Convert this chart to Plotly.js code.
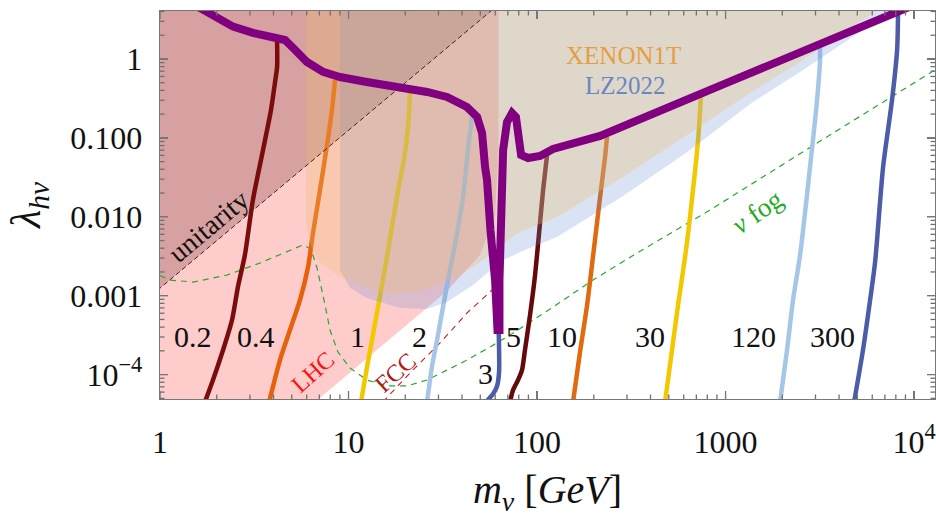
<!DOCTYPE html>
<html><head><meta charset="utf-8">
<script src="https://cdn.plot.ly/plotly-3.0.1.min.js"></script>
<style>html,body{margin:0;padding:0;background:#fff}#chart{width:936px;height:517px}</style>
</head><body><div id="chart"></div><script>
// ---------- data (m_v in GeV, lambda_hv) ----------
const relicM = [1.53,2.0,2.44,3.11,3.98,4.6,5.08,6.02,7.33,9.01,12.5,18.8,26.1,33.3,42.5,48.1,51.1,53.0,54.3,56.6,59.9,61.7,63.2,63.2,64.0,64.4,66.1,69.3,73.7,77.3,79.3,82.3,89.6,103.7,121.6,132.5,144.3,169,216,1000,8128,10120];
const relicL = [4.83,3.44,2.57,2.14,1.85,1.74,1.38,0.916,0.685,0.591,0.511,0.442,0.382,0.330,0.246,0.184,0.115,0.0428,0.0293,0.0068,0.00158,0.000367,0.000367,0.00158,0.0068,0.0293,0.0703,0.159,0.207,0.184,0.109,0.0607,0.0556,0.059,0.0723,0.0767,0.0767,0.0887,0.106,0.49,4.06,4.9];

const c02M = [1.73,1.91,2.16,2.41,2.59,2.82,3.11,3.52,3.88,4.07,4.18,4.18];
const c02L = [4.5e-5,8.55e-5,2.05e-4,4.92e-4,1.29e-3,3.28e-3,0.0163,0.0703,0.226,0.497,0.792,1.64];
const c04M = [3.79,4.33,4.89,5.53,6.10,6.48,7.06,7.69,8.17,8.48];
const c04L = [4.5e-5,1.53e-4,3.67e-4,8.83e-4,2.31e-3,6.23e-3,0.0219,0.0813,0.226,0.542];
const c1M = [11.65,12.54,13.33,14.34,15.8,17.23,18.54,19.68,20.68,21.19];
const c1L = [4.5e-5,1.25e-4,2.75e-4,7.19e-4,2.6e-3,9.1e-3,0.0253,0.0525,0.1375,0.371];
const c2M = [26.1,27.7,29.5,31.3,33.7,36.7,40.5,43.0,45.2];
const c2L = [4.5e-5,1.25e-4,2.75e-4,6.04e-4,1.58e-3,4.4e-3,0.0178,0.0703,0.184];
const c3M = [62.5,62.9,62.9,61.4,58.4,53.6];
const c3L = [4e-4,2.05e-4,1.08e-4,7.18e-5,5.68e-5,4.5e-5];
const c5M = [71.9,74.6,79.3,83.2,86.3,91.8,97.5,103.7,107.7,113];
const c5L = [4.5e-5,6.38e-5,8.55e-5,1.14e-4,2.05e-4,5.69e-4,1.78e-3,8.34e-3,0.0219,0.0607];
const c10M = [155.2,169,184,198,216,229.5,235];
const c10L = [4.5e-5,1.93e-4,7.4e-4,3.09e-3,0.0178,0.0573,0.103];
const c30M = [477.5,520,560,617,672,715,742];
const c30L = [4.5e-5,2.05e-4,7.62e-4,3.79e-3,0.0219,0.094,0.36];
const c120M = [1946,2119,2280,2485,2806,3058,3171,3171];
const c120L = [4.5e-5,2.05e-4,8.83e-4,3.28e-3,0.0428,0.302,0.971,1.5];
const c300M = [4808,5358,5845,6213,6850,7640,8128,8224];
const c300L = [4.5e-5,2.05e-4,8.83e-4,2.67e-3,0.0428,0.302,1.3,3.94];

const lhcM = [1,6.81,18.8,33.3,49.9,59.9,62.5,62.5,1];
const lhcL = [1e-6,4.76e-5,3.67e-4,1.15e-3,3.28e-3,0.0105,0.07,10,10];
const unitM = [0.9,60,0.9];
const unitL = [1.01e-3,4.5,4.5];
const xenonM = [5.95,5.95,6.4,7.06,9.01,12.5,17.2,23.9,30.6,42.5,54.3,63.6,81.3,127.7,286,649,1349,2485,5358,8433,8433];
const xenonL = [10,7.87e-3,3.79e-3,2.67e-3,1.73e-3,1.25e-3,1.05e-3,1.15e-3,1.41e-3,2.06e-3,3.09e-3,4.27e-3,6.41e-3,9.93e-3,0.0319,0.115,0.371,0.916,3.12,6.47,10];
const lzM = [9.01,9.01,10.2,12.5,18.8,26.1,33.3,45.8,63.6,81.3,127.7,286,649,1349,2485,5358,9526,9526];
const lzL = [10,2.12e-3,1.25e-3,9.35e-4,6.98e-4,6.78e-4,8.32e-4,1.37e-3,2.67e-3,3.58e-3,5.55e-3,0.0184,0.0703,0.269,0.684,2.33,5.6,10];

const fogM = [1.0,1.13,1.50,2.27,3.39,4.72,5.74,6.32,6.81,7.41,7.98,8.79,10.2,12.5,16.0,20.4,26.1,33.3,42.5,56.3,69.3,121.6,198,339.6,828,3715,12900];
const fogL = [1.8e-3,1.58e-3,1.49e-3,1.83e-3,2.6e-3,3.58e-3,4.4e-3,3.91e-3,2.25e-3,8.83e-4,3.67e-4,1.93e-4,1.21e-4,8.55e-5,7.18e-5,7.18e-5,8.55e-5,1.14e-4,1.53e-4,2.24e-4,3.0e-4,7.19e-4,1.58e-3,3.48e-3,0.0122,0.115,0.726];
const fccM = [15.2,21.2,30.6,42.5,57.7];
const fccL = [4.5e-5,1.05e-4,2.52e-4,6.04e-4,1.18e-3];

const xTickVals = [1,10,100,1000,10000];
const xTickText = ['1','10','100','1000','10<sup>4</sup>'];
const yTickVals = [1e-4,1e-3,1e-2,1e-1,1];
const yTickText = ['10<sup>−4</sup>','0.001','0.010','0.100','1'];

const contourLabels = ['0.2','0.4','1','2','3','5','10','30','120','300'];

// ---------- build ----------
const FONT = '"Liberation Serif", "Times New Roman", Times, serif';
const XR = [0,4.111], YR = [-4.309,0.608];
const PX_PER_DEC_X = 775/(XR[1]-XR[0]), PX_PER_DEC_Y = 388/(YR[1]-YR[0]);
function line(x,y,color,width,extra){
  return {type:'scatter',mode:'lines',x:x,y:y,hoverinfo:'skip',
    line:Object.assign({color:color,width:width},extra||{})};
}
function region(x,y,fill){
  return {type:'scatter',mode:'lines',x:x,y:y,fill:'toself',fillcolor:fill,line:{width:0},hoverinfo:'skip'};
}

// frame tick marks (decades + 2..9 minor marks) on all four sides, as one segmented line trace
const tkX = [], tkY = [];
for(let e=-6;e<=5;e++){
  for(let d=1;d<=9;d++){
    const lv = Math.log10(d*Math.pow(10,e));
    const len = d===1 ? 8 : 4.5;
    if(lv>=XR[0]-1e-9 && lv<=XR[1]){
      const dy = len/PX_PER_DEC_Y;
      tkX.push(Math.pow(10,lv),Math.pow(10,lv),null,Math.pow(10,lv),Math.pow(10,lv),null);
      tkY.push(Math.pow(10,YR[0]),Math.pow(10,YR[0]+dy),null,Math.pow(10,YR[1]),Math.pow(10,YR[1]-dy),null);
    }
    if(lv>=YR[0] && lv<=YR[1]){
      const dx = len/PX_PER_DEC_X;
      tkY.push(Math.pow(10,lv),Math.pow(10,lv),null,Math.pow(10,lv),Math.pow(10,lv),null);
      tkX.push(Math.pow(10,XR[0]),Math.pow(10,XR[0]+dx),null,Math.pow(10,XR[1]),Math.pow(10,XR[1]-dx),null);
    }
  }
}

const sp = {shape:'spline',smoothing:0.7};
const traces = [
  region(lhcM,lhcL,'rgba(255,0,0,0.2)'),
  region(unitM,unitL,'rgba(110,50,50,0.28)'),
  line(fogM,fogL,'#2aa82a',1.2,{dash:'6px,5px'}),
  line(fccM,fccL,'#c02020',1.1,{dash:'6px,5px'}),
  line(c02M,c02L,'#7a0c0c',4.5,sp),
  line(c04M,c04L,'#e6620a',4.5,sp),
  line(c1M,c1L,'#f2c800',4.5,sp),
  line(c2M,c2L,'#a6c6e8',4.5,sp),
  line(c3M,c3L,'#4c5ca8',4.5,sp),
  line(c5M,c5L,'#640a0a',4.5,sp),
  line(c10M,c10L,'#e06a10',4.5,sp),
  line(c30M,c30L,'#f2c800',4.5,sp),
  line(c120M,c120L,'#a6c6e8',4.5,sp),
  line(c300M,c300L,'#4c5ca8',4.5,sp),
  region(lzM,lzL,'rgba(100,140,210,0.24)'),
  region(xenonM,xenonL,'rgba(240,190,110,0.3)'),
  line([unitM[0],unitM[1]],[unitL[0],unitL[1]],'#3a2a2a',1,{dash:'5px,3px'}),
  line(relicM,relicL,'#800080',8),
  line(tkX,tkY,'#707070',1.3)
];

const lx = [0.175,0.509,1.045,1.379,1.724,1.873,2.133,2.599,3.146,3.565];
const ly = [-3.52,-3.52,-3.52,-3.52,-3.98,-3.52,-3.52,-3.52,-3.52,-3.52];
const annotations = contourLabels.map((t,i)=>({x:lx[i],y:ly[i],xref:'x',yref:'y',text:t,showarrow:false,
  font:{family:FONT,size:30,color:'#111'}}));
annotations.push(
  {x:2.456,y:0.038,xref:'x',yref:'y',text:'XENON1T',showarrow:false,font:{family:FONT,size:25,color:'#e3a040'}},
  {x:2.467,y:-0.33,xref:'x',yref:'y',text:'LZ2022',showarrow:false,font:{family:FONT,size:25,color:'#6a88c0'}},
  {x:0.255,y:-2.12,xref:'x',yref:'y',text:'unitarity',textangle:-40,showarrow:false,font:{family:FONT,size:28,color:'#111'}},
  {x:0.812,y:-3.967,xref:'x',yref:'y',text:'LHC',textangle:-42,showarrow:false,font:{family:FONT,size:24,color:'#ff1010'}},
  {x:1.247,y:-3.98,xref:'x',yref:'y',text:'FCC',textangle:-42,showarrow:false,font:{family:FONT,size:24,color:'#b01818'}},
  {x:3.167,y:-1.939,xref:'x',yref:'y',text:'<i>ν</i> fog',textangle:-35,showarrow:false,font:{family:FONT,size:27,color:'#22aa22'}}
);

function axisBase(){
  return {type:'log',showgrid:false,zeroline:false,showline:true,linecolor:'#777',linewidth:1.3,
    mirror:'ticks',ticks:'inside',ticklen:8,tickwidth:1.3,tickcolor:'#777',
    tickfont:{family:FONT,size:32,color:'#111'}};
}
const layout = {
  width:936,height:517,margin:{l:160,r:1,t:11,b:118},
  paper_bgcolor:'#fff',plot_bgcolor:'#fff',showlegend:false,
  font:{family:FONT},
  xaxis:Object.assign(axisBase(),{range:XR,tickmode:'array',tickvals:xTickVals,ticktext:xTickText,
    ticklabelstandoff:14,
    title:{text:'<i>m</i><sub><i>v</i></sub> [<i>GeV</i>]',font:{family:FONT,size:40,color:'#111'},standoff:18}}),
  yaxis:Object.assign(axisBase(),{range:YR,tickmode:'array',tickvals:yTickVals,ticktext:yTickText,
    ticklabelstandoff:10,
    title:{text:'<i>λ</i><sub><i>hv</i></sub>',font:{family:FONT,size:42,color:'#111'},standoff:16}}),
  annotations:annotations
};
Plotly.newPlot('chart',traces,layout,{staticPlot:true,displayModeBar:false});
</script></body></html>
